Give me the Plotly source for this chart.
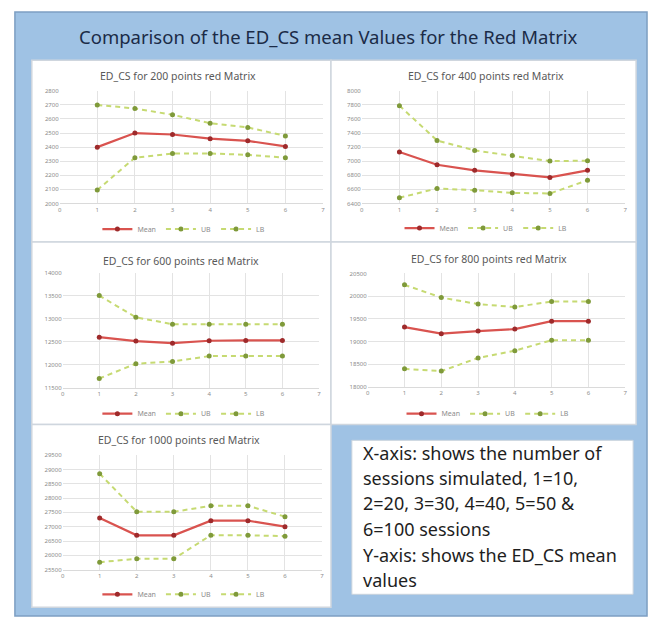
import plotly.graph_objects as go

# Session index on the x axis (1=10, 2=20, 3=30, 4=40, 5=50, 6=100 sessions)
sessions = [1, 2, 3, 4, 5, 6]

# ED_CS mean values with upper / lower bounds per matrix size
mean_200 = [2400, 2500, 2490, 2460, 2445, 2405]
ub_200 = [2700, 2675, 2630, 2570, 2540, 2480]
lb_200 = [2095, 2325, 2355, 2355, 2345, 2325]

mean_400 = [7130, 6950, 6870, 6815, 6770, 6870]
ub_400 = [7790, 7295, 7153, 7082, 7002, 7007]
lb_400 = [6480, 6612, 6588, 6550, 6541, 6729]

mean_600 = [12600, 12515, 12470, 12523, 12530, 12530]
ub_600 = [13500, 13030, 12880, 12880, 12880, 12880]
lb_600 = [11705, 12025, 12075, 12190, 12190, 12190]

mean_800 = [19320, 19175, 19232, 19275, 19450, 19450]
ub_800 = [20250, 19970, 19826, 19761, 19884, 19884]
lb_800 = [18400, 18350, 18640, 18800, 19030, 19030]

mean_1000 = [27300, 26700, 26700, 27210, 27210, 27000]
ub_1000 = [28850, 27520, 27520, 27730, 27730, 27350]
lb_1000 = [25760, 25880, 25880, 26700, 26700, 26670]

chart_titles = [
    "ED_CS for 200 points red Matrix",
    "ED_CS for 400 points red Matrix",
    "ED_CS for 600 points red Matrix",
    "ED_CS for 800 points red Matrix",
    "ED_CS for 1000 points red Matrix",
]
y_ranges = [(2000, 2800), (6400, 8000), (11500, 14000), (18000, 20500), (25500, 29500)]
y_steps = [100, 200, 500, 500, 500]
series = [
    (mean_200, ub_200, lb_200),
    (mean_400, ub_400, lb_400),
    (mean_600, ub_600, lb_600),
    (mean_800, ub_800, lb_800),
    (mean_1000, ub_1000, lb_1000),
]

main_title = "Comparison of the ED_CS mean Values for the Red Matrix"
note_lines = [
    "X-axis: shows the number of",
    "sessions simulated, 1=10,",
    "2=20, 3=30, 4=40, 5=50 &",
    "6=100 sessions",
    "Y-axis: shows the ED_CS mean",
    "values",
]

# ---- layout geometry (pixels on a 654 x 622 canvas) ----
W, H = 654, 622


def px(x):
    return x / W


def py(y):
    return 1 - y / H


# chart cell boxes: (left, top, right, bottom)
cells = [
    (30, 57, 331, 241),
    (331, 57, 638, 241),
    (30, 241, 331, 426),
    (331, 241, 638, 426),
    (30, 426, 331, 611),
]
# plot areas: (left, top, right, bottom)
plots = [
    (58, 88, 323, 202),
    (362, 88, 627, 202),
    (61, 272, 319, 389),
    (368, 273, 627, 388),
    (61, 457, 322, 573),
]
title_pos = [(177, 73), (487, 73), (180, 260), (490, 258), (178, 442)]
legend_pos = [(183, 228), (487, 227), (183, 415), (489, 415), (183, 598)]

BLUE = "#9fc2e4"
MEAN_LINE = "#d9534f"
MEAN_MARK = "#9e2a2b"
BOUND_LINE = "#c6da72"
BOUND_MARK = "#7f9a3a"
GRID = "#e3e3e3"
TICK = "#8c8c8c"

fig = go.Figure()

shapes = [
    dict(type="rect", xref="paper", yref="paper",
         x0=px(13), x1=px(649), y0=py(620), y1=py(8),
         fillcolor=BLUE, line=dict(color="#7d9fc2", width=1.5), layer="below"),
]
for (l, t, r, b) in cells:
    shapes.append(dict(type="rect", xref="paper", yref="paper",
                       x0=px(l), x1=px(r), y0=py(b), y1=py(t),
                       fillcolor="white", line=dict(color="#cfd6de", width=1.5),
                       layer="below"))
# note box
shapes.append(dict(type="rect", xref="paper", yref="paper",
                   x0=px(352), x1=px(635), y0=py(598), y1=py(442),
                   fillcolor="white", line=dict(color="#c9d3dd", width=1),
                   layer="below"))

annotations = [
    dict(text=main_title, xref="paper", yref="paper", x=px(329), y=py(33),
         xanchor="center", yanchor="middle", showarrow=False,
         font=dict(family="Noto Sans", size=18.5, color="#1b2b47")),
]

for i in range(5):
    n = i + 1
    xa = "x" if n == 1 else f"x{n}"
    ya = "y" if n == 1 else f"y{n}"
    lg = "legend" if n == 1 else f"legend{n}"
    mean, ub, lb = series[i]
    fig.add_trace(go.Scatter(
        x=sessions, y=mean, name="Mean", mode="lines+markers",
        xaxis=xa, yaxis=ya, legend=lg,
        line=dict(color=MEAN_LINE, width=2.2),
        marker=dict(color=MEAN_MARK, size=5, symbol="circle")))
    fig.add_trace(go.Scatter(
        x=sessions, y=ub, name="UB", mode="lines+markers",
        xaxis=xa, yaxis=ya, legend=lg,
        line=dict(color=BOUND_LINE, width=2, dash="5px,4px"),
        marker=dict(color=BOUND_MARK, size=5, symbol="circle")))
    fig.add_trace(go.Scatter(
        x=sessions, y=lb, name="LB", mode="lines+markers",
        xaxis=xa, yaxis=ya, legend=lg,
        line=dict(color=BOUND_LINE, width=2, dash="5px,4px"),
        marker=dict(color=BOUND_MARK, size=5, symbol="circle")))

    l, t, r, b = plots[i]
    xkey = "xaxis" if n == 1 else f"xaxis{n}"
    ykey = "yaxis" if n == 1 else f"yaxis{n}"
    fig.update_layout({
        xkey: dict(domain=[px(l), px(r)], anchor=ya, range=[0, 7],
                   tick0=0, dtick=1, showgrid=True, gridcolor=GRID, gridwidth=1,
                   zeroline=False, showline=True, linecolor="#dadada",
                   ticks="", tickfont=dict(size=6, color=TICK, family="Noto Sans"),
                   fixedrange=True),
        ykey: dict(domain=[py(b), py(t)], anchor=xa, range=list(y_ranges[i]),
                   tick0=y_ranges[i][0], dtick=y_steps[i], tickformat="d",
                   showgrid=True, gridcolor=GRID, gridwidth=1,
                   zeroline=False, showline=False, ticks="",
                   tickfont=dict(size=6, color=TICK, family="Noto Sans"),
                   fixedrange=True),
        lg: dict(orientation="h", x=px(legend_pos[i][0]), y=py(legend_pos[i][1]),
                 xanchor="center", yanchor="middle", bgcolor="rgba(0,0,0,0)",
                 font=dict(size=7, color=TICK, family="Noto Sans"),
                 itemwidth=30, tracegroupgap=0),
    })
    annotations.append(dict(
        text=chart_titles[i], xref="paper", yref="paper",
        x=px(title_pos[i][0]), y=py(title_pos[i][1]),
        xanchor="center", yanchor="middle", showarrow=False,
        font=dict(family="Noto Sans", size=10.5, color="#595959")))

# note text, one line per annotation
line_y = [455, 480, 506, 532, 558, 583]
for txt, yy in zip(note_lines, line_y):
    annotations.append(dict(
        text=txt, xref="paper", yref="paper", x=px(361), y=py(yy),
        xanchor="left", yanchor="middle", showarrow=False,
        font=dict(family="Noto Sans", size=18, color="#1e1e1e")))

fig.update_layout(
    width=W, height=H, margin=dict(l=0, r=0, t=0, b=0),
    paper_bgcolor="white", plot_bgcolor="white",
    shapes=shapes, annotations=annotations,
)

fig.write_html("out.html")
